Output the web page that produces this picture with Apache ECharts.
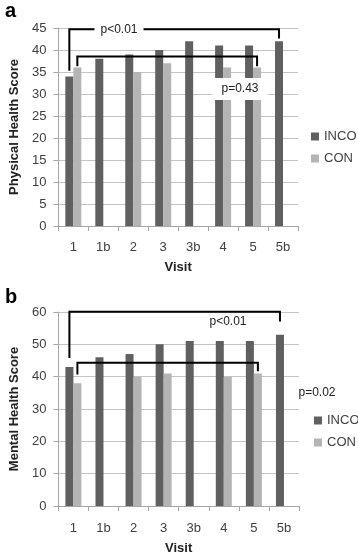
<!DOCTYPE html>
<html>
<head>
<meta charset="utf-8">
<script src="https://cdn.jsdelivr.net/npm/echarts@6/dist/echarts.min.js"></script>
<style>
  html, body { margin: 0; padding: 0; background: #fff; }
  #chart { width: 358px; height: 556px; }
</style>
</head>
<body>
<div id="chart"></div>
<script>
const visits = ['1', '1b', '2', '3', '3b', '4', '5', '5b']

// a: physical health
const physInco = [34, 38, 39, 40, 42, 41, 41, 42]
const physCon = [36, null, 35, 37, null, 36, 36, null]
// b: mental health
const mentInco = [43, 46, 47, 50, 51, 51, 51, 53]
const mentCon = [38, null, 40, 41, null, 40, 41, null]

// brackets: [fromVisit, fromSide(0 INCO / 1 CON), toVisit, toSide, top, fromEnd, toEnd]
const physBrackets = [
  [0, 0, 7, 0, 44.7, 35.3, 42.6],
  [0, 1, 6, 1, 38.5, 36.3, 36.3]
]
const mentBrackets = [
  [0, 0, 7, 0, 60.1, 45.8, 57.1],
  [0, 1, 6, 1, 44.3, 40.7, 41.7]
]

const font = 'Liberation Sans'
const dark = '#606060'
const light = '#b4b4b4'
const barW = 8

function renderBracket(params, api) {
  const half = barW / 2
  const top = api.coord([0, api.value(4)])[1]
  const x1 = api.coord([api.value(0), 0])[0] + (api.value(1) ? half : -half)
  const x2 = api.coord([api.value(2), 0])[0] + (api.value(3) ? half : -half)
  const y1 = api.coord([0, api.value(5)])[1]
  const y2 = api.coord([0, api.value(6)])[1]
  return {
    type: 'polyline',
    shape: { points: [[x1, y1], [x1, top], [x2, top], [x2, y2]] },
    style: { stroke: '#000', lineWidth: 2, fill: null }
  }
}

function xAxis(gridIndex, margin, gap) {
  return {
    type: 'category',
    gridIndex: gridIndex,
    data: visits,
    name: 'Visit',
    nameLocation: 'middle',
    nameGap: gap,
    nameTextStyle: { fontFamily: font, fontWeight: 'bold', fontSize: 13, color: '#222' },
    axisLine: { lineStyle: { color: '#a6a6a6', width: 1 } },
    axisTick: { show: true, length: 5, lineStyle: { color: '#a6a6a6' } },
    axisLabel: { fontFamily: font, fontSize: 13, color: '#404040', margin: margin }
  }
}

function yAxis(gridIndex, name, max, interval, gap) {
  return {
    type: 'value',
    gridIndex: gridIndex,
    min: 0,
    max: max,
    interval: interval,
    name: name,
    nameLocation: 'middle',
    nameRotate: 90,
    nameGap: gap,
    nameTextStyle: { fontFamily: font, fontWeight: 'bold', fontSize: 13, color: '#222' },
    axisLine: { show: true, lineStyle: { color: '#a6a6a6', width: 1 } },
    axisTick: { show: true, length: 5, lineStyle: { color: '#a6a6a6' } },
    axisLabel: { fontFamily: font, fontSize: 13, color: '#404040', margin: 12 },
    splitLine: { lineStyle: { color: '#c4c4c4', width: 1 } }
  }
}

function bars(name, data, color, idx) {
  return {
    name: name,
    type: 'bar',
    xAxisIndex: idx,
    yAxisIndex: idx,
    data: data,
    barWidth: barW,
    barGap: '0%',
    itemStyle: { color: color }
  }
}

function legend(left, top) {
  return {
    left: left,
    top: top,
    orient: 'vertical',
    icon: 'rect',
    itemWidth: 8,
    itemHeight: 8,
    itemGap: 9,
    textStyle: { fontFamily: font, fontSize: 13, color: '#404040' },
    data: ['INCO', 'CON']
  }
}

function pText(text, x, y, bg) {
  return {
    type: 'text',
    x: x,
    y: y,
    z: 100,
    style: {
      text: text,
      fontFamily: font,
      fontSize: 12,
      fill: '#222',
      align: 'center',
      verticalAlign: 'middle',
      backgroundColor: bg ? '#fff' : null,
      padding: bg ? bg : 0
    }
  }
}

const chart = echarts.init(document.getElementById('chart'))
chart.setOption({
  animation: false,
  title: [
    { text: 'a', left: 0, top: -4, textStyle: { fontFamily: font, fontWeight: 'bold', fontSize: 20, color: '#000' } },
    { text: 'b', left: 0, top: 282, textStyle: { fontFamily: font, fontWeight: 'bold', fontSize: 20, color: '#000' } }
  ],
  grid: [
    { left: 49, right: 60, top: 28, bottom: 330 },
    { left: 52, right: 59, top: 312, bottom: 49 }
  ],
  legend: [legend(306, 125), legend(309, 409)],
  xAxis: [xAxis(0, 15, 35), xAxis(1, 16, 36)],
  yAxis: [
    yAxis(0, 'Physical Health Score', 45, 5, 31),
    yAxis(1, 'Mental Health Score', 60, 10, 33)
  ],
  series: [
    bars('INCO', physInco, dark, 0),
    bars('CON', physCon, light, 0),
    bars('INCO', mentInco, dark, 1),
    bars('CON', mentCon, light, 1),
    {
      type: 'custom',
      xAxisIndex: 0,
      yAxisIndex: 0,
      renderItem: renderBracket,
      encode: { x: [0, 2], y: [4, 5, 6] },
      data: physBrackets,
      z: 5,
      silent: true
    },
    {
      type: 'custom',
      xAxisIndex: 1,
      yAxisIndex: 1,
      renderItem: renderBracket,
      encode: { x: [0, 2], y: [4, 5, 6] },
      data: mentBrackets,
      z: 5,
      silent: true
    }
  ],
  graphic: [
    pText('p<0.01', 119, 30, [3, 6]),
    pText('p=0.43', 240, 89, [5, 9]),
    pText('p<0.01', 228, 322, null),
    pText('p=0.02', 317, 393, null)
  ]
})
</script>
</body>
</html>
